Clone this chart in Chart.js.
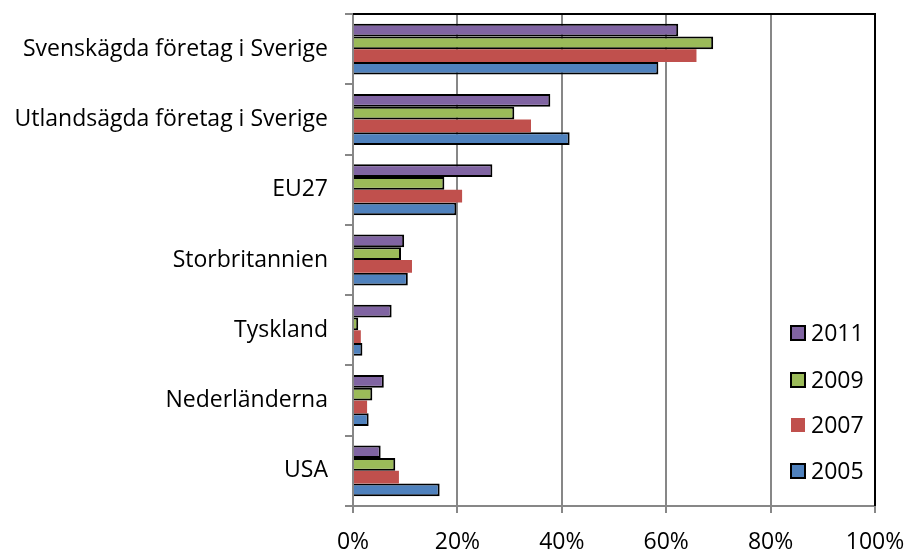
<!DOCTYPE html>
<html lang="sv">
<head>
    <meta charset="UTF-8">
    <title>Andel företag</title>
    <script src="https://cdn.jsdelivr.net/npm/chart.js"></script>
    <style>
        html, body { margin: 0; padding: 0; background: #fff; }
        #wrap { width: 907px; height: 552px; }
    </style>
</head>
<body>
    <div id="wrap"><canvas id="chart" width="907" height="552"></canvas></div>
    <script>
        // Data (percent)
        const categories = [
            'Svenskägda företag i Sverige',
            'Utlandsägda företag i Sverige',
            'EU27',
            'Storbritannien',
            'Tyskland',
            'Nederländerna',
            'USA'
        ];
        const years = ['2011', '2009', '2007', '2005'];
        const values2011 = [62.3, 37.8, 26.7, 9.8, 7.4, 5.9, 5.3];
        const values2009 = [69.0, 30.9, 17.5, 9.2, 1.0, 3.7, 8.1];
        const values2007 = [65.8, 34.1, 20.9, 11.3, 1.5, 2.7, 8.8];
        const values2005 = [58.5, 41.5, 19.8, 10.5, 1.8, 3.0, 16.6];
        const xTicks = [0, 20, 40, 60, 80, 100];

        const fontFamily = '"Open Sans", Lato, sans-serif';
        const fontSize = 23;
        const gridGray = '#878787';

        // Draws the black frame on top/right and the legend inside the plot area
        const framePlugin = {
            id: 'frame',
            afterDraw(chart) {
                const { ctx, chartArea: a } = chart;
                ctx.save();
                ctx.strokeStyle = '#000';
                ctx.lineWidth = 2;
                ctx.beginPath();
                ctx.moveTo(a.left, a.top);
                ctx.lineTo(a.right, a.top);
                ctx.lineTo(a.right, a.bottom);
                ctx.stroke();

                // legend
                ctx.font = fontSize + 'px ' + fontFamily;
                ctx.textBaseline = 'middle';
                const rows = [333, 380, 425, 471];
                chart.data.datasets.forEach((ds, i) => {
                    const y = rows[i];
                    ctx.fillStyle = ds.backgroundColor;
                    ctx.fillRect(791, y - 7, 14, 14);
                    if (ds.borderWidth > 0) {
                        ctx.strokeStyle = '#000';
                        ctx.lineWidth = 2;
                        ctx.strokeRect(791, y - 7, 14, 14);
                    }
                    ctx.fillStyle = '#000';
                    ctx.fillText(ds.label, 811, y + 1);
                });
                ctx.restore();
            }
        };

        new Chart(document.getElementById('chart'), {
            type: 'bar',
            data: {
                labels: categories,
                datasets: [
                    { label: years[0], data: values2011, backgroundColor: '#8064A2', borderColor: '#000', borderWidth: 2 },
                    { label: years[1], data: values2009, backgroundColor: '#9BBB59', borderColor: '#000', borderWidth: 2 },
                    { label: years[2], data: values2007, backgroundColor: '#C0504D', borderColor: '#000', borderWidth: 0 },
                    { label: years[3], data: values2005, backgroundColor: '#4F81BD', borderColor: '#000', borderWidth: 2 }
                ]
            },
            options: {
                indexAxis: 'y',
                responsive: false,
                animation: false,
                categoryPercentage: 0.725,
                barPercentage: 1.0,
                layout: { padding: { top: 14, right: 32, left: 0, bottom: 0 } },
                plugins: {
                    legend: { display: false },
                    tooltip: { enabled: false }
                },
                scales: {
                    x: {
                        min: 0,
                        max: 100,
                        afterBuildTicks: (axis) => {
                            axis.ticks = xTicks.map(v => ({ value: v }));
                        },
                        afterFit: (axis) => {
                            axis.height = 46;
                            axis.paddingLeft = 0;
                            axis.paddingRight = 0;
                        },
                        grid: { color: gridGray, lineWidth: 2, tickLength: 7 },
                        border: { color: gridGray, width: 2 },
                        ticks: {
                            color: '#000',
                            font: { size: fontSize, family: fontFamily },
                            padding: 16,
                            callback: (v) => v + '%'
                        }
                    },
                    y: {
                        afterFit: (axis) => {
                            axis.width = 353;
                            axis.paddingTop = 0;
                            axis.paddingBottom = 0;
                        },
                        grid: { display: true, drawOnChartArea: false, color: gridGray, lineWidth: 2, tickLength: 8 },
                        border: { color: gridGray, width: 2 },
                        ticks: {
                            color: '#000',
                            font: { size: fontSize, family: fontFamily },
                            padding: 17
                        }
                    }
                }
            },
            plugins: [framePlugin]
        });
    </script>
</body>
</html>
